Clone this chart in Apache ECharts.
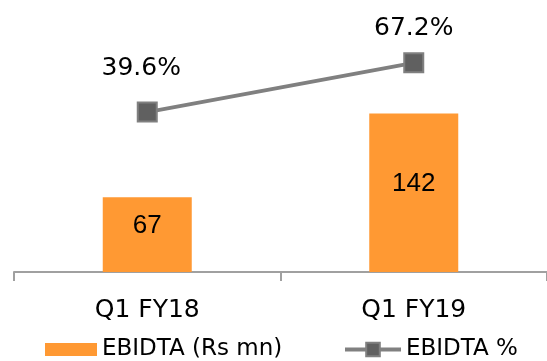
<!DOCTYPE html>
<html>
<head>
<meta charset="utf-8">
<script src="https://cdn.jsdelivr.net/npm/echarts@6/dist/echarts.min.js"></script>
<style>
  html, body { margin: 0; padding: 0; background: #fff; }
  #chart { width: 547px; height: 361px; }
</style>
</head>
<body>
<div id="chart"></div>
<script>
var categories = ['Q1 FY18', 'Q1 FY19']
var ebidta = [67, 142]
var ebidtaPct = [39.6, 67.2]

var chart = echarts.init(document.getElementById('chart'))

var option = {
  animation: false,
  grid: {
    left: 14,
    right: -3,
    top: 40,
    bottom: 89
  },
  legend: [
    {
      data: [{ name: 'EBIDTA (Rs mn)', icon: 'rect' }],
      left: 40,
      top: 333,
      itemWidth: 52,
      itemHeight: 13,
      textStyle: { fontFamily: 'DejaVu Sans', fontSize: 23, color: '#000' }
    },
    {
      data: [{ name: 'EBIDTA %', lineStyle: { width: 4, color: '#808080' } }],
      left: 338,
      top: 333,
      itemWidth: 56,
      itemHeight: 17,
      lineStyle: { width: 4, color: '#808080' },
      textStyle: { fontFamily: 'DejaVu Sans', fontSize: 23, color: '#000' }
    }
  ],
  // x轴显示
  xAxis: {
    type: 'category',
    data: categories,
    axisLine: { lineStyle: { color: '#a0a0a0', width: 2 } },
    axisTick: { show: true, length: 9, lineStyle: { color: '#a0a0a0', width: 2 } },
    axisLabel: {
      margin: 26,
      fontFamily: 'DejaVu Sans',
      fontSize: 25,
      color: '#000'
    }
  },
  // y轴显示
  yAxis: [
    { type: 'value', min: 0, max: 208, show: false },
    { type: 'value', min: -50, max: 80, show: false }
  ],
  series: [
    {
      name: 'EBIDTA (Rs mn)',
      type: 'bar',
      barWidth: 89,
      data: ebidta,
      itemStyle: { color: '#ff9933' },
      label: {
        show: true,
        position: 'inside',
        offset: [0, -9],
        fontFamily: 'Liberation Sans',
        fontSize: 26,
        color: '#000'
      }
    },
    {
      name: 'EBIDTA %',
      type: 'line',
      yAxisIndex: 1,
      data: ebidtaPct.map(function (v, i) {
        return i === 0 ? { value: v, label: { offset: [-6, -10] } } : v
      }),
      symbol: 'rect',
      symbolSize: 19,
      lineStyle: { color: '#808080', width: 4 },
      itemStyle: { color: '#606060', borderColor: '#808080', borderWidth: 2 },
      label: {
        show: true,
        position: 'top',
        distance: 11,
        formatter: '{c}%',
        fontFamily: 'DejaVu Sans',
        fontSize: 25,
        color: '#000'
      }
    }
  ]
}
chart.setOption(option)
</script>
</body>
</html>
